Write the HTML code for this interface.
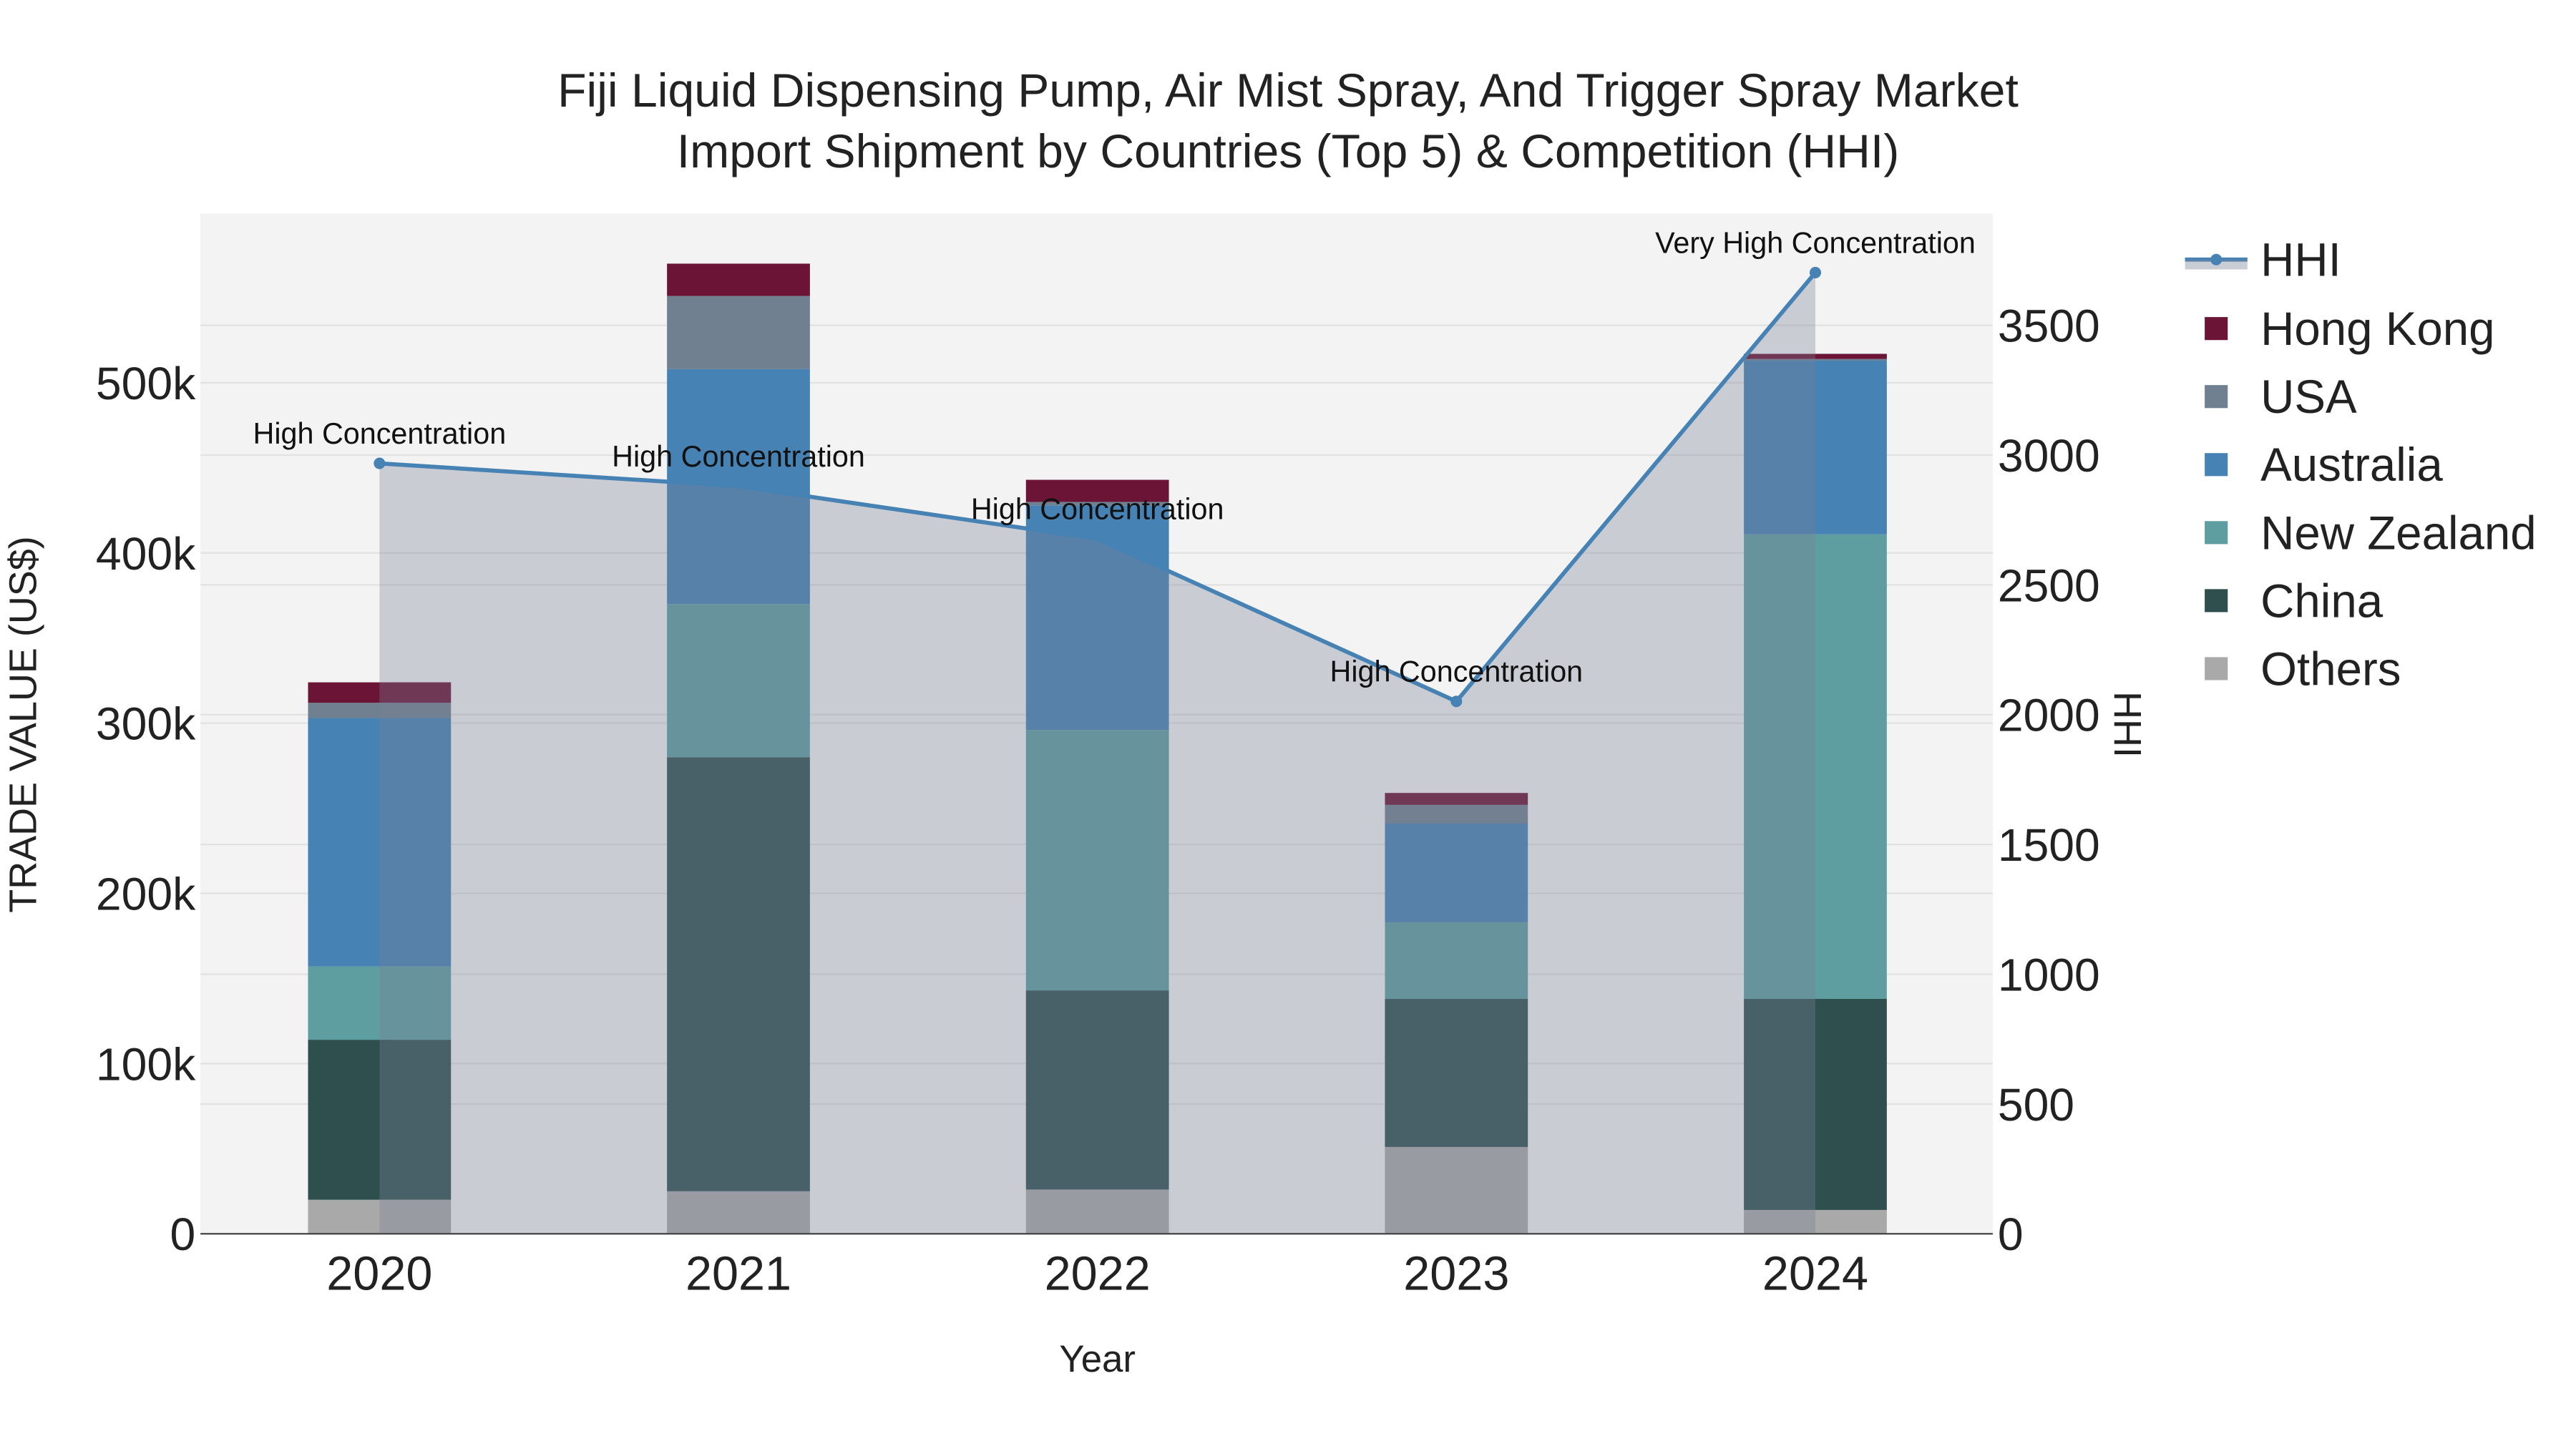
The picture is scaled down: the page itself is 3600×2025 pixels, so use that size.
<!DOCTYPE html>
<html><head><meta charset="utf-8"><style>
html,body{margin:0;padding:0;background:#fff}
svg{display:block;font-family:"Liberation Sans",Arial,sans-serif}
</style></head><body>
<svg id="chart" width="3600" height="2025" viewBox="0 0 1568 882" xmlns="http://www.w3.org/2000/svg">
<rect x="0" y="0" width="1568" height="882" fill="#fff"/>
<rect x="122" y="130" width="1091" height="621" fill="#f3f3f3"/>
<g id="grid"></g>
<g id="bars"></g>
<g id="hhi"></g>
<g id="axes"></g>
<text x="784" y="65" text-anchor="middle" font-size="28.8" fill="#222">Fiji Liquid Dispensing Pump, Air Mist Spray, And Trigger Spray Market</text>
<text x="784" y="102" text-anchor="middle" font-size="28.8" fill="#222">Import Shipment by Countries (Top 5) &amp; Competition (HHI)</text>
<text x="668" y="835" text-anchor="middle" font-size="23" fill="#222">Year</text>
<text transform="translate(22,441) rotate(-90)" text-anchor="middle" font-size="23.5" fill="#222">TRADE VALUE (US$)</text>
<text transform="translate(1287,441) rotate(90)" text-anchor="middle" font-size="23.5" fill="#222">HHI</text>
<g id="legend"></g>
</svg>
<script>
const years = ["2020","2021","2022","2023","2024"];
const others = [20, 25, 26, 51, 14];
const china = [94, 255, 117, 87, 124];
const newZealand = [43, 90, 153, 45, 273];
const australia = [146, 138, 132, 58, 102];
const usa = [9, 43, 2, 11, 1];
const hongKong = [12, 19, 13, 7, 3];
const hhiValues = [2968, 2880, 2677, 2051, 3703];
const hhiLabels = ["High Concentration","High Concentration","High Concentration","High Concentration","Very High Concentration"];
const leftTicks = [0,100,200,300,400,500];
const rightTicks = [0,500,1000,1500,2000,2500,3000,3500];

const NS="http://www.w3.org/2000/svg";
function mk(tag,attrs,parent){const e=document.createElementNS(NS,tag);for(const k in attrs)e.setAttribute(k,attrs[k]);parent.appendChild(e);return e;}
const x0=231, dx=218.5, y0=751;
const xScale=i=>x0+i*dx;
const yL=v=>y0-v*1.036;
const yR=v=>y0-v*0.158;
const grid=document.getElementById('grid'), bars=document.getElementById('bars'), hg=document.getElementById('hhi'), axes=document.getElementById('axes'), leg=document.getElementById('legend');

leftTicks.forEach(t=>{ if(t>0){const l=mk('line',{x1:122,x2:1213,y1:yL(t),y2:yL(t),stroke:'#e2e2e2','stroke-width':1},grid);

}
const tx=mk('text',{x:119,y:yL(t)+10,'text-anchor':'end','font-size':28,fill:'#222'},axes);tx.textContent=t===0?'0':t+'k';

});
rightTicks.forEach(t=>{ if(t>0){const l=mk('line',{x1:122,x2:1213,y1:yR(t),y2:yR(t),stroke:'#e2e2e2','stroke-width':1},grid);

}
const tx=mk('text',{x:1216,y:yR(t)+10,'font-size':28,fill:'#222'},axes);tx.textContent=t;

});

const series=[["Others",others,"#a9a9a9"],["China",china,"#2f4f4f"],["New Zealand",newZealand,"#5f9ea0"],["Australia",australia,"#4682b4"],["USA",usa,"#708090"],["Hong Kong",hongKong,"#6b1436"]];
years.forEach((y,i)=>{let base=0;series.forEach(s=>{const v=s[1][i];const r=mk('rect',{x:xScale(i)-43.5,width:87,y:yL(base+v),height:yL(base)-yL(base+v),fill:s[2]},bars);

base+=v;});
const tx=mk('text',{x:xScale(i),y:785,'text-anchor':'middle','font-size':29,fill:'#222'},axes);tx.textContent=y;

});
const al=mk('line',{x1:122,x2:1213,y1:751,y2:751,stroke:'#444','stroke-width':1},axes);



let pts=hhiValues.map((v,i)=>xScale(i)+','+yR(v)).join(' ');
const area=mk('polygon',{points:xScale(0)+','+y0+' '+pts+' '+xScale(4)+','+y0,fill:'rgba(120,129,149,0.34)'},hg);


const pl=mk('polyline',{points:pts,fill:'none',stroke:'#4682b4','stroke-width':2.5},hg);


hhiValues.forEach((v,i)=>{ if(i===0||i>=3){const c=mk('circle',{cx:xScale(i),cy:yR(v),r:3.5,fill:'#4682b4'},hg);

}
const t=mk('text',{x:xScale(i),y:yR(v)-12,'text-anchor':'middle','font-size':18,fill:'#111'},hg);t.textContent=hhiLabels[i];

});

// legend
const hl=mk('line',{x1:1330,x2:1368,y1:158,y2:158,stroke:'#4682b4','stroke-width':2.5},leg);


const hr=mk('rect',{x:1330,y:158,width:38,height:6,fill:'rgba(120,129,149,0.4)'},leg);


const hc=mk('circle',{cx:1349,cy:158,r:3.5,fill:'#4682b4'},leg);


const ht=mk('text',{x:1376,y:168,'font-size':28.5,fill:'#222'},leg);ht.textContent='HHI';


[...series].reverse().forEach((s,k)=>{const cy=200+k*41.4;
const r=mk('rect',{x:1342,y:cy-7,width:14,height:14,fill:s[2]},leg);


const t=mk('text',{x:1376,y:cy+10,'font-size':28.5,fill:'#222'},leg);t.textContent=s[0];

});
</script>
</body></html>
